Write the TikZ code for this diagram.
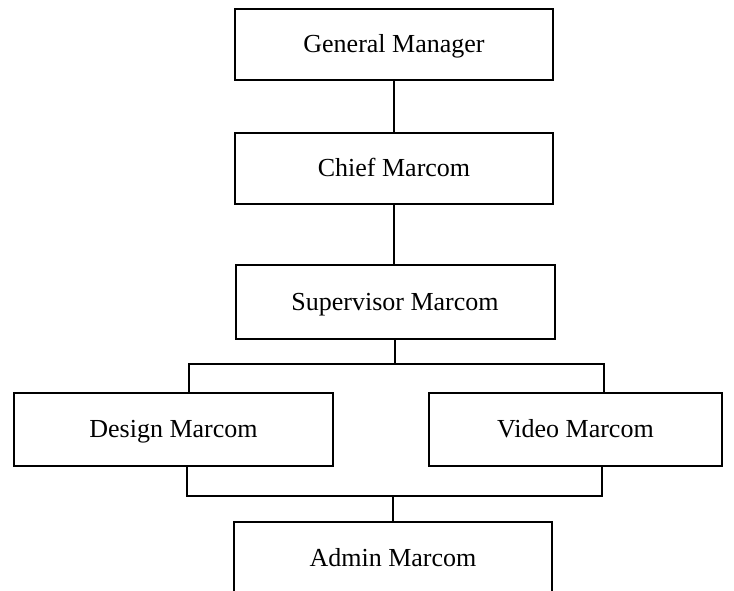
\documentclass[tikz,border=0pt]{standalone}
\usepackage{fontspec}
\setmainfont{Liberation Serif}
\begin{document}
\begin{tikzpicture}[x=1pt,y=1pt,
  box/.style={draw, line width=2pt, inner sep=0pt, text height=20pt, text depth=4pt, font=\fontsize{26}{30}\selectfont},
  conn/.style={line width=2pt}]
\clip (0,0) rectangle (734,-590);
\useasboundingbox (0,0) rectangle (734,-590);
\node[box, minimum width=318, minimum height=71] (gm) at (394,-44.5) {General Manager};
\node[box, minimum width=318, minimum height=71] (chief) at (394,-168.5) {Chief Marcom};
\node[box, minimum width=319, minimum height=74] (sup) at (395,-302) {Supervisor Marcom};
\node[box, minimum width=319, minimum height=73] (design) at (173.5,-429.5) {Design Marcom};
\node[box, minimum width=293, minimum height=73] (video) at (575.5,-429.5) {Video Marcom};
\node[box, minimum width=318, minimum height=72] (admin) at (393,-558) {Admin Marcom};
\draw[conn] (gm.south) -- (chief.north);
\draw[conn] (chief.south) -- (chief.south |- sup.north);
\coordinate (bl) at (189,-364);
\coordinate (bR) at (604,-364);
\draw[conn] (sup.south) -- (sup.south |- bl);
\draw[conn] (bl |- design.north) -- (bl) -- (bR) -- (bR |- video.north);
\coordinate (cl) at (187,-496);
\coordinate (cr) at (602,-496);
\draw[conn] (cl |- design.south) -- (cl) -- (cr) -- (cr |- video.south);
\draw[conn] (admin.north) -- (admin.north |- cl);
\end{tikzpicture}
\end{document}
